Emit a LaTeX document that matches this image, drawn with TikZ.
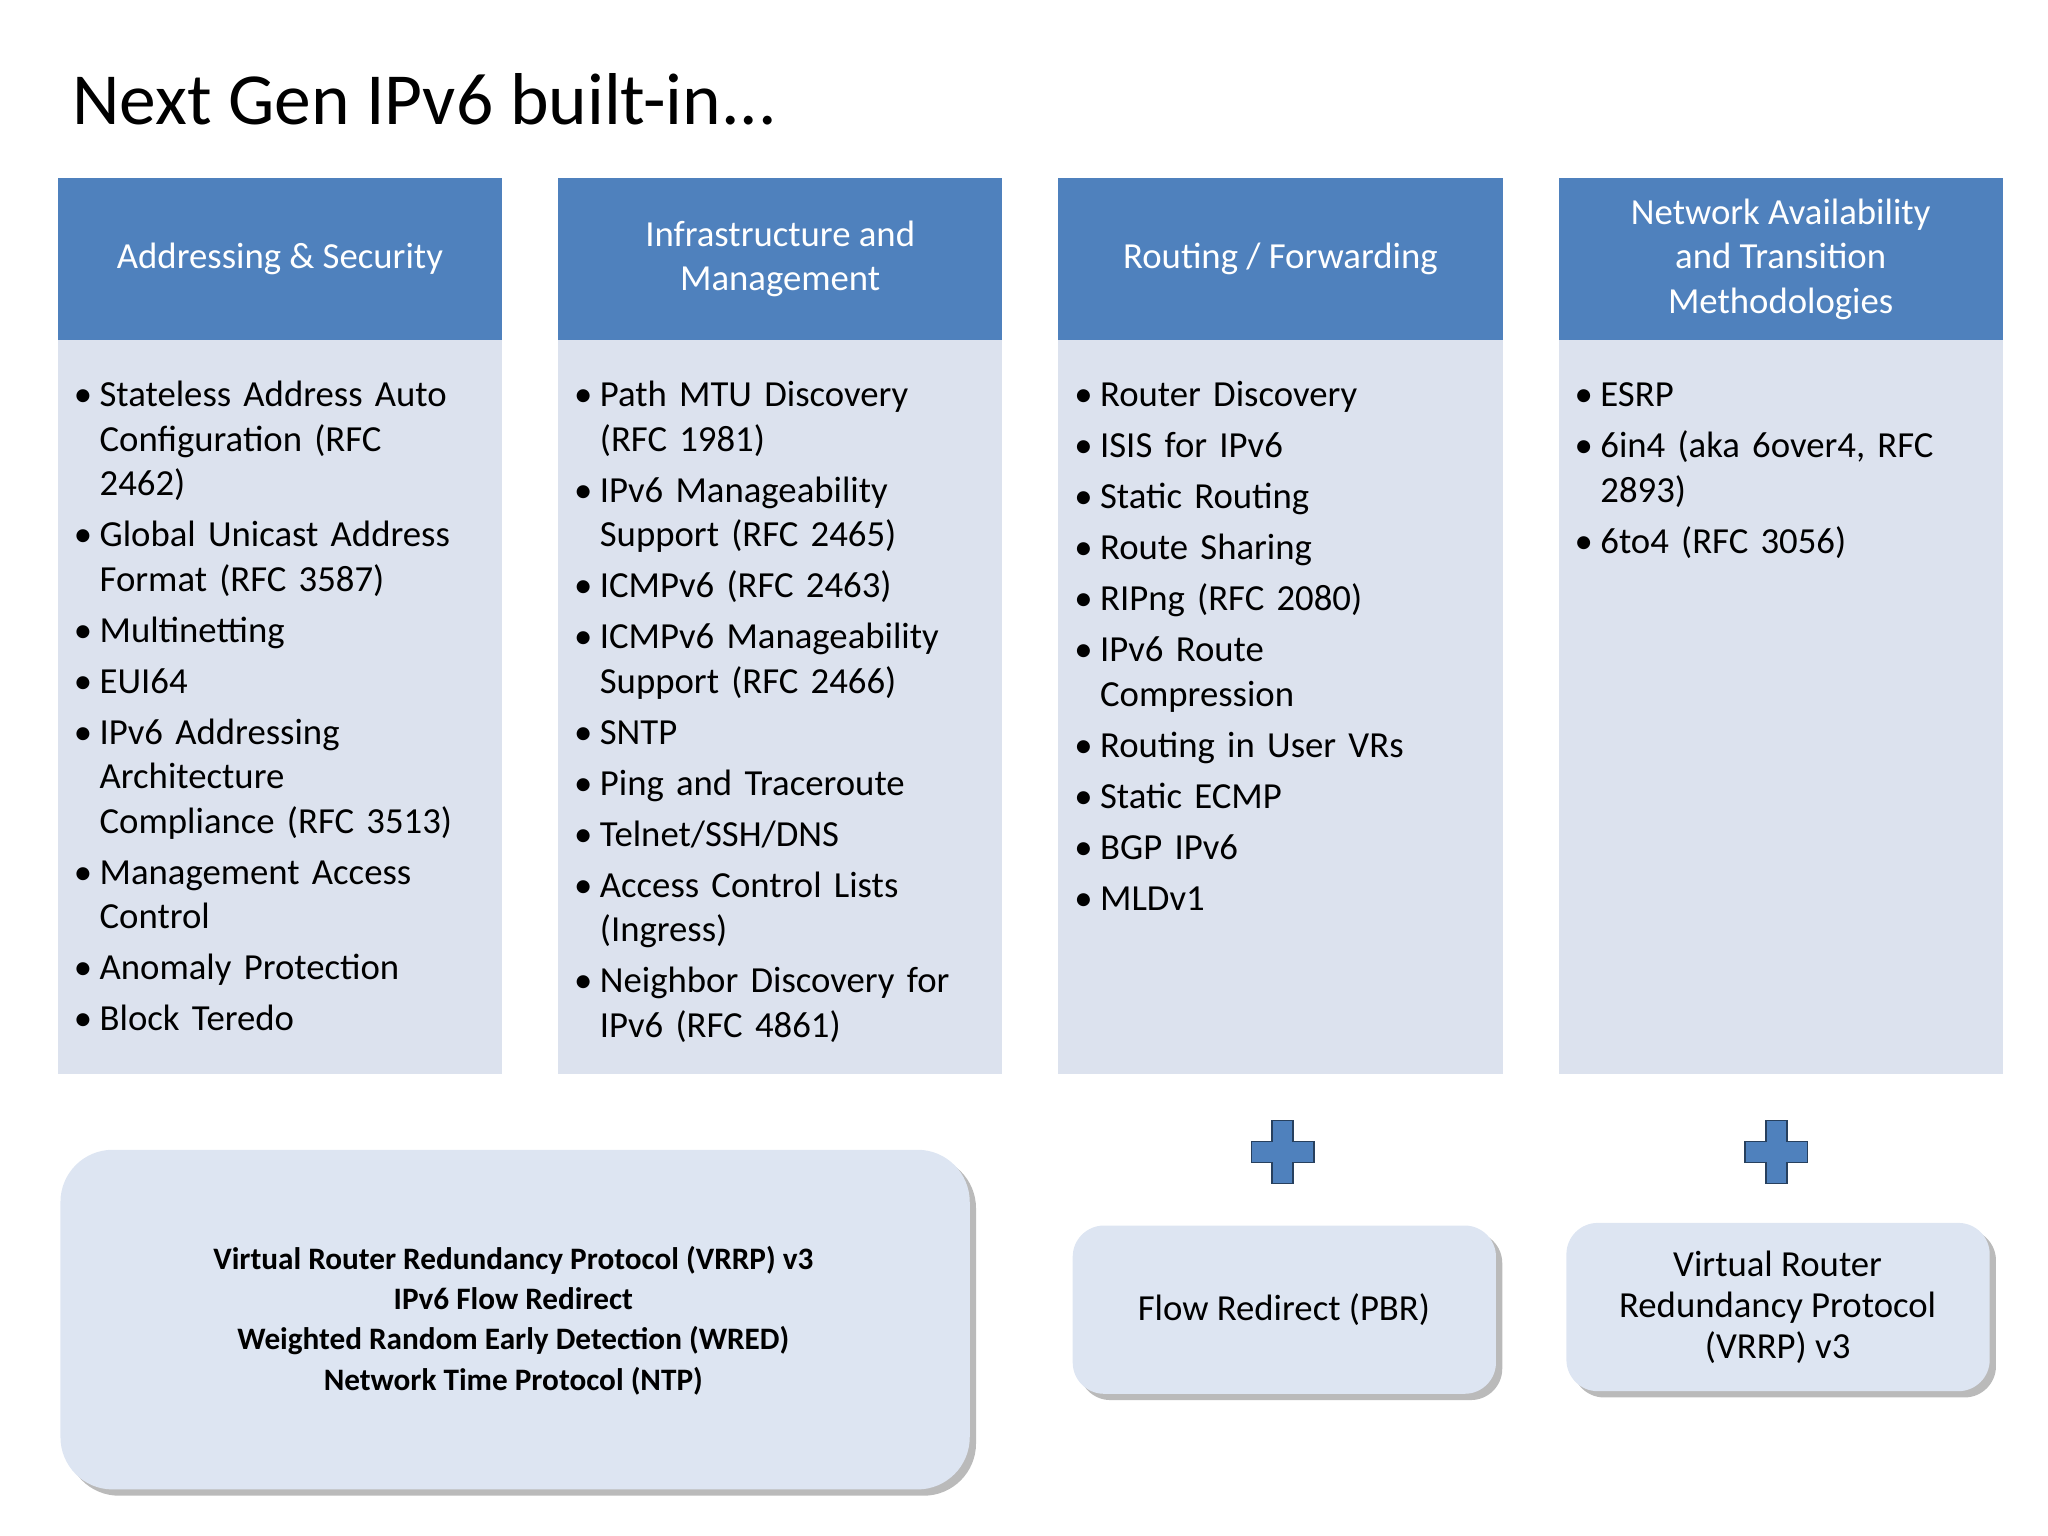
\documentclass[tikz,border=0pt]{standalone}
\usepackage{fontspec}
\setmainfont{Carlito}
\usepackage{enumitem}
\usetikzlibrary{shadows}
\definecolor{hdr}{HTML}{4F81BD}
\definecolor{bdy}{HTML}{DCE2EE}
\definecolor{box}{HTML}{DDE5F2}
\begin{document}
\begin{tikzpicture}[x=0.025cm,y=-0.025cm,
 hdr/.style={fill=hdr,draw=none,minimum width=8.5cm,minimum height=3.1cm,anchor=north west,text=white,align=center,font=\fontsize{20}{24.2}\selectfont},
 bdy/.style={fill=bdy,draw=none,minimum width=8.5cm,minimum height=14.05cm,anchor=north west},
 lst/.style={anchor=north west,text width=8.1cm,inner sep=0pt,font=\fontsize{20}{24.2}\selectfont},
 rbox/.style={fill=box,draw=none,rounded corners=1cm,drop shadow={shadow xshift=0.12cm,shadow yshift=-0.12cm,fill=black!45,opacity=0.6},anchor=north west},
 plus/.style={fill=hdr,draw=hdr!50!black,line width=0.8pt}]
\useasboundingbox (0,0) rectangle (1568,1176);
\newcommand\blist[1]{\begin{itemize}[leftmargin=12\dimexpr0.025cm\relax,labelsep=4pt,itemsep=3.6pt,topsep=0pt,parsep=0pt,label=\textbullet]#1\end{itemize}}
\node[anchor=base west,inner sep=0pt,font=\fontsize{40}{48}\selectfont] (title) at (55,95) {Next Gen IPv6 built-in...};
\foreach \x/\n/\t in {44/a/{Addressing \& Security},427/b/{Infrastructure and\\Management},810/c/{Routing / Forwarding},1193/d/{Network Availability\\and Transition\\Methodologies}}{
 \node[bdy] (b\n) at (\x,260) {};
 \node[hdr] (h\n) at (\x,136) {\t};
}
\node[lst] (la) at (64,277) {\blist{
\item Stateless Address Auto\newline Configuration (RFC\newline 2462)
\item Global Unicast Address\newline Format (RFC 3587)
\item Multinetting
\item EUI64
\item IPv6 Addressing\newline Architecture\newline Compliance (RFC 3513)
\item Management Access\newline Control
\item Anomaly Protection
\item Block Teredo}};
\node[lst] (lb) at (447,277) {\blist{
\item Path MTU Discovery\newline (RFC 1981)
\item IPv6 Manageability\newline Support (RFC 2465)
\item ICMPv6 (RFC 2463)
\item ICMPv6 Manageability\newline Support (RFC 2466)
\item SNTP
\item Ping and Traceroute
\item Telnet/SSH/DNS
\item Access Control Lists\newline (Ingress)
\item Neighbor Discovery for\newline IPv6 (RFC 4861)}};
\node[lst] (lc) at (830,277) {\blist{
\item Router Discovery
\item ISIS for IPv6
\item Static Routing
\item Route Sharing
\item RIPng (RFC 2080)
\item IPv6 Route\newline Compression
\item Routing in User VRs
\item Static ECMP
\item BGP IPv6
\item MLDv1}};
\node[lst] (ld) at (1213,277) {\blist{
\item ESRP
\item 6in4 (aka 6over4, RFC\newline 2893)
\item 6to4 (RFC 3056)}};
\node[rbox,minimum width=17.4cm,minimum height=6.5cm] (r1) at (46,880) {};
\node[align=center,font=\bfseries\fontsize{17}{22}\selectfont] (t1) at (393,1011) {Virtual Router Redundancy Protocol (VRRP) v3\\IPv6 Flow Redirect\\Weighted Random Early Detection (WRED)\\Network Time Protocol (NTP)};
\node[rbox,minimum width=8.1cm,minimum height=3.22cm,rounded corners=0.6cm] (r2) at (821,938) {};
\node[font=\fontsize{20}{24}\selectfont] (t2) at (983,1003) {Flow Redirect (PBR)};
\node[rbox,minimum width=8.1cm,minimum height=3.22cm,rounded corners=0.6cm] (r3) at (1199,936) {};
\node[align=center,font=\fontsize{20}{22.5}\selectfont] (t3) at (1361,1001) {Virtual Router\\Redundancy Protocol\\(VRRP) v3};
\foreach \cx in {982,1360}{
 \draw[plus] (\cx-8,858) -- (\cx+8,858) -- (\cx+8,874) -- (\cx+24,874) -- (\cx+24,890) -- (\cx+8,890) -- (\cx+8,906) -- (\cx-8,906) -- (\cx-8,890) -- (\cx-24,890) -- (\cx-24,874) -- (\cx-8,874) -- cycle;
}
\end{tikzpicture}
\end{document}
